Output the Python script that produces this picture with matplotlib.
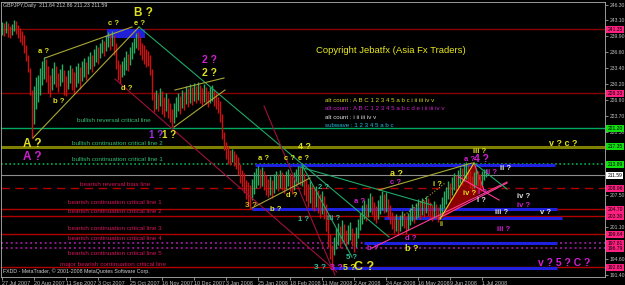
import matplotlib
matplotlib.use('Agg')
import matplotlib.pyplot as plt
from matplotlib.transforms import blended_transform_factory

plt.rcParams['font.family'] = ['Liberation Sans', 'DejaVu Sans']

# daily bars GBPJPY, 27 Jul 2007 .. early Jul 2008
high = [242.8, 242.5, 243.0, 242.6, 241.9, 242.4, 243.1, 242.9, 242.2, 241.6,
        241.0, 240.2, 238.0, 236.0, 233.5, 229.0, 229.8, 231.5, 232.0, 233.5,
        234.8, 235.6, 235.2, 233.8, 232.0, 233.5, 234.6, 233.9, 232.5, 233.2,
        234.2, 233.0, 231.8, 233.0, 234.0, 233.4, 232.6, 233.8, 234.4, 233.6,
        234.8, 235.4, 234.6, 235.8, 236.6, 236.0, 237.2, 238.0, 237.6, 238.6,
        239.4, 239.0, 240.2, 240.8, 240.4, 241.0, 240.2, 238.5, 235.0, 234.2,
        234.8, 235.6, 236.8, 236.2, 237.6, 238.8, 239.6, 240.6, 240.8, 239.8,
        238.6, 238.0, 237.2, 236.8, 236.0, 233.2, 228.6, 229.0, 228.2, 229.4,
        228.8, 227.6, 228.4, 227.4, 226.4, 225.0, 226.2, 227.6, 228.4, 227.8,
        229.0, 228.6, 229.8, 229.4, 230.2, 229.6, 230.4, 229.8, 230.6, 230.0,
        229.4, 230.2, 229.6, 228.8, 229.6, 230.0, 229.2, 228.4, 227.6, 226.8,
        224.0, 220.4, 218.4, 217.6, 216.8, 217.0, 216.6, 216.0, 215.4, 213.8,
        212.6, 212.0, 210.6, 210.2, 209.6, 210.8, 212.2, 213.0, 213.4, 212.8,
        213.2, 212.4, 211.6, 210.8, 211.4, 210.6, 211.8, 212.4, 211.8, 212.6,
        212.2, 211.6, 212.4, 212.8, 212.0, 211.4, 212.2, 212.8, 213.4, 213.2,
        213.6, 212.0, 210.6, 209.8, 210.4, 209.6, 208.8, 209.4, 208.6, 207.8,
        208.4, 207.4, 205.8, 202.6, 199.6, 197.4, 199.0, 200.8, 201.8, 201.2,
        202.4, 201.6, 200.4, 201.4, 202.0, 200.8, 199.8, 201.0, 202.8, 204.0,
        205.6, 206.6, 205.8, 207.0, 208.0, 207.4, 206.2, 205.4, 206.6, 207.6,
        208.4, 207.8, 208.2, 206.8, 205.6, 204.2, 203.4, 203.8, 202.8, 203.6,
        204.4, 204.0, 203.2, 204.0, 205.0, 205.8, 205.2, 206.0, 206.8, 206.2,
        207.0, 206.6, 207.4, 207.0, 206.2, 205.6, 206.4, 205.8, 205.2, 205.8,
        207.2, 208.4, 209.2, 210.4, 210.0, 211.2, 212.0, 211.6, 212.6, 213.2,
        213.0, 213.8, 214.2, 213.6, 212.4, 211.4, 212.2, 212.8, 212.4, 211.8,
        212.4, 212.9, 212.86]
low = [240.2, 240.0, 240.6, 239.8, 239.5, 240.1, 240.9, 240.3, 239.6, 238.8,
       238.2, 236.5, 234.8, 232.6, 228.0, 219.2, 222.0, 225.0, 226.5, 228.0,
       230.0, 231.2, 230.5, 228.4, 227.6, 229.0, 230.2, 229.5, 228.6, 229.8,
       230.6, 228.0, 227.8, 229.2, 230.3, 229.0, 228.2, 229.6, 230.4, 229.2,
       230.8, 231.6, 231.0, 232.2, 233.2, 232.6, 233.8, 234.6, 234.2, 235.4,
       236.4, 235.8, 236.8, 237.6, 237.0, 237.8, 236.0, 233.2, 231.0, 230.4,
       231.6, 232.0, 233.0, 232.8, 234.0, 235.2, 236.4, 237.4, 237.0, 236.0,
       235.0, 234.2, 233.6, 233.8, 232.0, 227.0, 224.4, 225.0, 224.6, 225.6,
       224.0, 223.4, 224.6, 223.2, 222.4, 221.4, 222.2, 223.4, 224.6, 224.0,
       225.2, 224.8, 226.0, 225.4, 226.4, 225.8, 226.8, 226.2, 227.0, 226.4,
       225.8, 226.6, 226.0, 225.4, 226.2, 226.8, 225.6, 225.0, 224.2, 222.4,
       219.0, 216.8, 215.0, 213.8, 213.6, 214.2, 213.4, 212.8, 211.6, 210.0,
       209.2, 208.0, 206.8, 205.6, 204.8, 206.6, 207.8, 209.0, 209.6, 209.0,
       209.4, 208.6, 207.6, 207.2, 207.6, 207.0, 208.0, 208.8, 208.4, 209.0,
       208.6, 208.0, 208.8, 209.4, 208.4, 207.8, 208.6, 209.4, 209.8, 209.6,
       209.4, 207.6, 206.4, 205.2, 206.0, 204.8, 204.4, 205.2, 204.0, 203.0,
       203.8, 202.6, 200.2, 197.0, 194.6, 193.2, 195.4, 196.6, 197.4, 196.8,
       198.2, 197.6, 196.6, 197.6, 198.4, 197.2, 196.0, 197.0, 198.8, 200.4,
       201.6, 202.8, 202.2, 203.2, 204.2, 203.6, 202.4, 201.8, 202.8, 203.8,
       204.6, 204.0, 204.2, 203.0, 201.6, 200.6, 199.8, 200.2, 199.4, 200.2,
       201.2, 200.8, 199.6, 200.4, 201.4, 202.2, 201.8, 202.6, 203.2, 202.8,
       203.6, 203.2, 204.0, 203.4, 202.6, 202.2, 203.0, 202.6, 202.0, 202.8,
       203.8, 205.0, 205.8, 206.8, 206.6, 207.6, 208.6, 208.2, 209.2, 210.0,
       209.6, 210.4, 210.8, 210.0, 209.0, 208.2, 209.0, 209.6, 209.4, 208.8,
       209.6, 210.6, 211.23]

date_labels = ['27 Jul 2007', '20 Aug 2007', '11 Sep 2007', '3 Oct 2007', '25 Oct 2007',
               '16 Nov 2007', '10 Dec 2007', '3 Jan 2008', '25 Jan 2008', '18 Feb 2008',
               '11 Mar 2008', '2 Apr 2008', '24 Apr 2008', '16 May 2008', '9 Jun 2008',
               '1 Jul 2008']
bars_per_label = 16

# scale labels that are not hidden behind a level tag
price_ticks = [246.30, 243.10, 239.90, 236.60, 233.40, 230.20, 226.90, 223.70, 220.50,
               207.50, 201.10, 194.60, 191.40]

# horizontal levels
levels = [241.35, 228.33, 221.20, 217.35, 213.89, 211.59, 208.96, 204.70, 203.30,
          199.64, 197.81, 196.79, 192.85]
level_color = ['#8b0000', '#8b0000', '#00a860', '#808000', '#00b050', '#8c8c8c', '#b00000',
               '#b00000', '#b00000', '#b00000', '#8a1a8a', '#8a1a8a', '#b00000']
level_style = ['-', '-', '-', '-', (0, (1, 1.5)), '-', (0, (6, 4)), '-', '-', '-',
               (0, (1, 1.5)), (0, (1, 1.5)), '-']
level_width = [1, 1, 1, 2.2, 1.2, 0.8, 1, 1, 1, 1, 1.4, 1.4, 1]
tag_color = ['#ff1f80', '#ff1f80', '#10e010', '#10e010', '#10e010', '#ffffff', '#ff1f80',
             '#ff1f80', '#ff1f80', '#ff1f80', '#ff1f80', '#ff1f80', '#ff1f80']

# blue zones (start bar, end bar, price)
blue_start = [126.5, 125, 191, 181, 165]
blue_end = [276.5, 277.5, 280, 277.5, 277.5]
blue_price = [213.68, 204.73, 202.90, 197.81, 192.72]

# trend lines (bar, price) -> (bar, price)
tl_start = [(15.5, 219.18), (21.5, 235.46), (68.5, 241.77), (150, 213.68), (149, 213.28),
            (56.5, 231.18), (131, 225.69), (185, 196.79), (218.5, 202.9), (236, 214.09),
            (228.5, 211.24), (188.5, 208.6), (125, 204.93), (86.5, 228.95), (86, 221.4),
            (200, 203.1), (219, 202.69)]
tl_end = [(68.5, 241.77), (65, 241.77), (193.5, 199.03), (175, 194.96), (215, 205.54),
          (167.5, 191.91), (166.5, 191.3), (252.5, 210.22), (252.5, 210.02), (252.5, 208.8),
          (248.5, 206.56), (235, 214.09), (154, 211.04), (111, 231.39), (111.5, 228.95),
          (221.5, 210.0), (236, 214.09)]
tl_color = ['#a8a838', '#a8a838', '#20a868', '#20a868', '#20a868', '#a0103a', '#a0103a',
            '#ff3c96', '#ff3c96', '#20a868', '#ff3c96', '#a8a838', '#a8a838', '#a8a838',
            '#a8a838', '#a8a838', '#d8d020']
tl_style = ['-'] * 15 + [':', '-']

triangle = [(219, 202.69), (236, 214.09), (241, 208.6)]

YEL = '#e0e020'
MAG = '#d020d0'
TEAL = '#30c0a0'
WHT = '#e0e0e0'
GRN = '#2fbf71'
CRM = '#d4145a'

# wave labels: bar, price, text, colour, size
notes = [
    (70.5, 244.6, 'B ?', YEL, 8.5), (55.5, 242.4, 'c ?', YEL, 5.5), (68.5, 242.4, 'e ?', YEL, 5.5),
    (20.5, 236.7, 'a ?', YEL, 5.5), (28.5, 226.7, 'b ?', YEL, 5.5), (62.5, 229.35, 'd ?', YEL, 5.5),
    (103.5, 235.05, '2 ?', MAG, 7.5), (103.5, 232.4, '2 ?', YEL, 7.5),
    (77, 219.8, '1 ?', '#a030e0', 7), (83.5, 219.8, '1 ?', YEL, 7),
    (15, 217.96, 'A ?', YEL, 8.5), (15, 215.31, 'A ?', MAG, 8.5),
    (151, 217.35, '4 ?', YEL, 6.5), (130.5, 215.11, 'a ?', YEL, 5.5), (144, 215.11, 'c ?', YEL, 5.5),
    (151, 215.11, 'e ?', YEL, 5.5), (124.5, 205.54, '3 ?', '#e0a020', 6), (137, 204.73, 'b ?', YEL, 5.5),
    (145, 207.58, 'd ?', YEL, 5.5), (160.5, 209.21, '2 ?', TEAL, 5.5), (151, 202.69, '1 ?', TEAL, 5.5),
    (166, 202.9, 'iii ?', TEAL, 5.5), (174.5, 194.96, '5 ?', TEAL, 5.5), (179, 206.36, 'a ?', MAG, 5.5),
    (197.5, 212.05, 'a ?', YEL, 6.5), (196.5, 210.22, 'c ?', MAG, 5.5), (185.5, 196.79, 'b ?', MAG, 5.5),
    (204.5, 198.83, 'd ?', MAG, 5.5), (205, 196.79, 'b ?', YEL, 6.5),
    (159, 192.93, '3 ?', TEAL, 6), (167, 192.93, '3 ?', MAG, 6.5), (173.5, 192.93, '5 ?', YEL, 6.5),
    (181, 192.93, 'C ?', YEL, 9),
    (217.5, 209.82, 'i ?', YEL, 5.5), (219.5, 201.6, 'ii', YEL, 5), (239, 216.4, 'iii ?', YEL, 5.5),
    (233.5, 214.9, 'a ?', MAG, 5.5), (239.5, 214.9, '4 ?', MAG, 7.5), (245, 212.26, 'ii ?', MAG, 5.5),
    (251.5, 213.07, 'ii ?', WHT, 5.5), (234, 207.98, 'iv ?', YEL, 5.5), (240, 208.19, 'i ?', MAG, 5.5),
    (239.5, 206.56, 'i ?', WHT, 5.5), (261, 207.37, 'iv ?', WHT, 5.5), (261, 205.54, 'iv ?', MAG, 5.5),
    (250, 204.12, 'iii ?', WHT, 5.5), (271.5, 204.12, 'v ?', WHT, 5.5), (251, 200.66, 'iii ?', MAG, 5.5),
    (280.5, 217.96, 'v ? c ?', YEL, 6.5), (281, 193.74, 'v ? 5 ? C ?', MAG, 7.5),
]

line_notes = [
    (56, 222.64, 'bullish reversal critical line', GRN),
    (57.5, 218.16, 'bullish continuation critical line 2', GRN),
    (57.5, 214.90, 'bullish continuation critical line 1', GRN),
    (56.5, 209.82, 'bearish reversal bias line', CRM),
    (56.5, 206.15, 'bearish continuation critical line 1', CRM),
    (56.5, 204.32, 'bearish continuation critical line 2', CRM),
    (56.5, 200.86, 'bearish continuation critical line 3', CRM),
    (56.5, 198.83, 'bearish continuation critical line 4', CRM),
    (56.5, 195.77, 'bearish continuation critical line 5', CRM),
    (55.5, 193.54, 'major bearish continuation critical line', CRM),
]

legend_lines = [
    ('alt count : A B C 1 2 3 4 5 a b c i ii iii iv v', '#d8d820'),
    ('alt count : A B C 1 2 3 4 5 a b c d e i ii iii iv v', MAG),
    ('alt count : i ii iii iv v', WHT),
    ('subwave : 1 2 3 4 5 a b c', '#20c0e0'),
]
legend_prices = [226.91, 225.28, 223.45, 221.82]

fig = plt.figure(figsize=(6.25, 2.85), dpi=100, facecolor='black')
ax = fig.add_axes([1 / 625, 8 / 285, 604 / 625, 275 / 285], facecolor='black')

n = min(len(high), len(low))
xs = list(range(n))
mids = [(high[i] + low[i]) / 2 for i in range(n)]
cols = ['#20b060']
for i in range(1, n):
    cols.append('#20b060' if mids[i] >= mids[i - 1] else '#d01010')

for lv, c, ls, lw in zip(levels, level_color, level_style, level_width):
    ax.axhline(lv, color=c, ls=ls, lw=lw, zorder=1)

for s, e, p in zip(blue_start, blue_end, blue_price):
    ax.hlines(p, s, e, color='#2020e0', lw=2.2, zorder=2)
ax.fill_between([52.5, 71.5], 239.53, 241.36, color='#2020d8', zorder=2, lw=0)

ax.fill([p[0] for p in triangle], [p[1] for p in triangle], color='#8b0000', zorder=2)
ax.plot([triangle[1][0], triangle[2][0]], [triangle[1][1], triangle[2][1]], color='#ff3c96', lw=0.8, zorder=3)

ax.vlines(xs, low[:n], high[:n], colors=cols, lw=1.0, zorder=3)

for (x0, y0), (x1, y1), c, ls in zip(tl_start, tl_end, tl_color, tl_style):
    ax.plot([x0, x1], [y0, y1], color=c, lw=0.8, ls=ls, zorder=4)

for x, y, t, c, s in notes:
    ax.text(x, y, t, color=c, fontsize=s, ha='center', va='center', fontweight='bold', zorder=6)

for x, y, t, c in line_notes:
    ax.text(x, y, t, color=c, fontsize=4.6, ha='center', va='center', zorder=6)

for (t, c), p in zip(legend_lines, legend_prices):
    ax.text(161.5, p, t, color=c, fontsize=4.4, ha='left', va='center', zorder=6)

ax.text(194.5, 237.08, 'Copyright Jebatfx (Asia Fx Traders)', color='#e8e820', fontsize=6.8,
        ha='center', va='center', zorder=6)
ax.text(0.004, 0.995, 'GBPJPY,Daily  211.64 212.86 211.23 211.59', color='#d0d0d0', fontsize=3.8,
        transform=ax.transAxes, ha='left', va='top')
ax.text(0.004, 0.012, 'FXDD - MetaTrader, \u00a9 2001-2008 MetaQuotes Software Corp.', color='#d0d0d0',
        fontsize=3.8, transform=ax.transAxes, ha='left', va='bottom')

ax.set_xlim(-0.5, 301.5)
ax.set_ylim(190.9, 246.85)

ax.set_xticks([i * bars_per_label for i in range(len(date_labels))])
ax.set_xticklabels(date_labels, ha='left', fontsize=3.9, color='#d0d0d0')
ax.tick_params(axis='x', length=2, width=0.5, pad=1, colors='#c0c0c0')

ax.yaxis.tick_right()
ax.set_yticks(price_ticks)
ax.set_yticklabels([f'{p:.2f}' for p in price_ticks], fontsize=3.6, color='#d0d0d0')
ax.tick_params(axis='y', length=2, width=0.5, pad=1.5, colors='#c0c0c0')

trans = blended_transform_factory(ax.transAxes, ax.transData)
for lv, tc in zip(levels, tag_color):
    ax.text(1.004, lv, f'{lv:.2f}', transform=trans, fontsize=3.6, color='black', ha='left', va='center',
            bbox=dict(boxstyle='square,pad=0.2', fc=tc, ec='none'), clip_on=False, zorder=7)

for sp in ax.spines.values():
    sp.set_color('#b0b0b0')
    sp.set_linewidth(0.6)

fig.savefig('out.png', dpi=100, facecolor='black')
